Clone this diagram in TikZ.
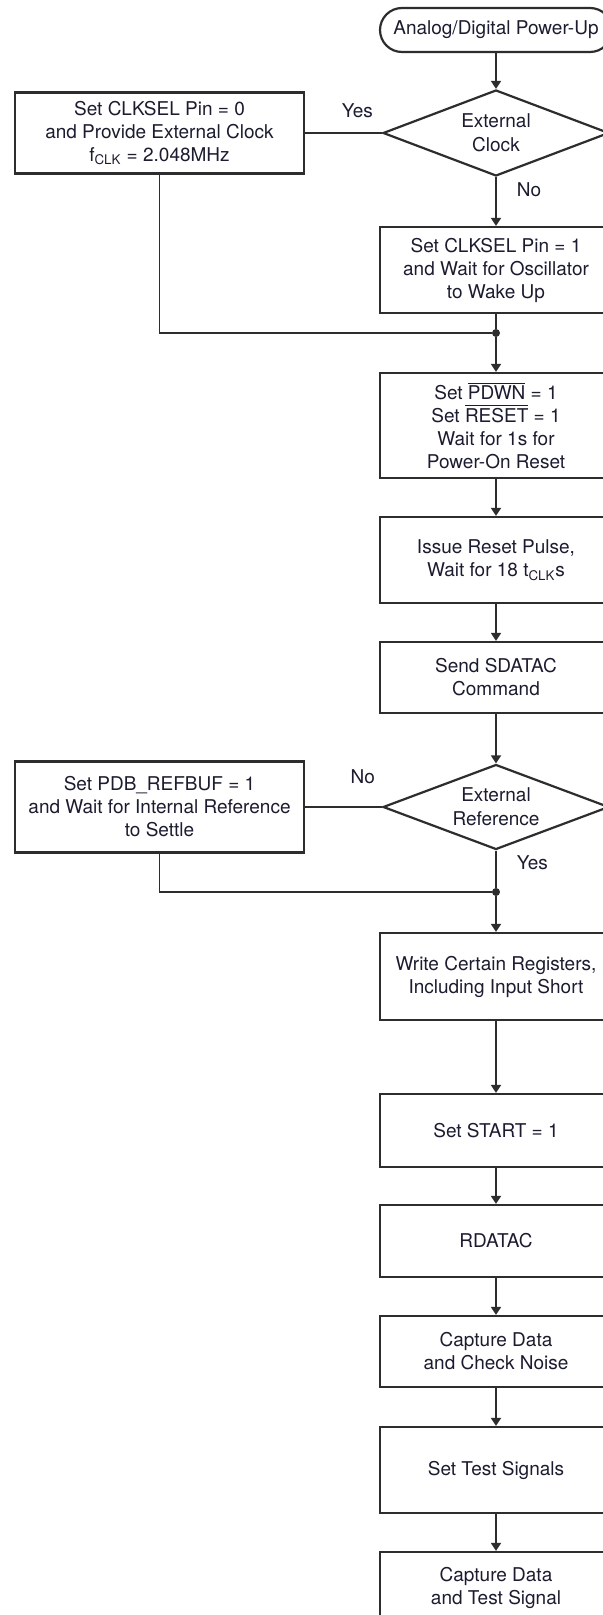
\documentclass[tikz,border=0pt]{standalone}
\usepackage{amsmath}
\usepackage{fontspec}
\setmainfont{TeX Gyre Heros}
\usetikzlibrary{arrows.meta, shapes.geometric, shapes.misc}

\definecolor{linegray}{RGB}{45,45,45}
\definecolor{textnavy}{RGB}{28,28,48}

\begin{document}
\begin{tikzpicture}[x=0.5pt, y=-0.5pt,
    proc/.style={draw=linegray, line width=1.1pt, fill=white, minimum width=116pt, align=center, inner sep=0pt, font=\fontsize{9.5pt}{11.5pt}\selectfont, text=textnavy},
    side/.style={proc, minimum width=144.5pt},
    decision/.style={diamond, draw=linegray, line width=1.1pt, fill=white, aspect=2.6, inner sep=0pt, minimum width=113pt, minimum height=43pt, align=center, font=\fontsize{9.5pt}{12pt}\selectfont, text=textnavy},
    terminal/.style={rounded rectangle, draw=linegray, line width=1.1pt, fill=white, minimum width=116pt, minimum height=22pt, inner sep=0pt, font=\fontsize{9.5pt}{11.5pt}\selectfont, text=textnavy},
    flow/.style={draw=linegray, line width=0.8pt, -{Triangle[length=4pt, width=5pt]}},
    link/.style={draw=linegray, line width=0.8pt},
    junction/.style={circle, fill=linegray, inner sep=0pt, minimum size=4pt},
    answer/.style={inner sep=0pt, font=\fontsize{9.5pt}{11.5pt}\selectfont, text=textnavy}
]
\useasboundingbox (0,0) rectangle (603,1615);
\fill[white] (0,0) rectangle (603,1615);

% Clock selection
\node[terminal] (start) at (496,30) {Analog/Digital Power-Up};
\node[decision] (d1) at (496,133) {External\\Clock};
\node[side, minimum height=40.5pt] (l1) at (159.5,133) {Set CLKSEL Pin = 0\\and Provide External Clock\\f$_{\text{CLK}}$ = 2.048MHz};
\node[proc, minimum height=43pt] (clk1) at (496,270) {Set CLKSEL Pin = 1\\and Wait for Oscillator\\to Wake Up};
\node[junction] (j1) at (496,333) {};

\draw[flow] (start) -- (d1);
\draw[link] (d1.west) -- node[answer, above=7pt, pos=0.32] {Yes} (l1.east);
\draw[flow] (d1.south) -- node[answer, right=10pt, pos=0.25] {No} (clk1.north);
\draw[link] (clk1.south) -- (j1);
\draw[link] (l1.south) |- (j1);

% Power-on and reset
\node[proc, minimum height=52.5pt] (pdwn) at (496,425.5) {Set $\overline{\text{PDWN}}$ = 1\\Set $\overline{\text{RESET}}$ = 1\\Wait for 1s for\\Power-On Reset};
\node[proc, minimum height=43pt] (reset) at (496,560) {Issue Reset Pulse,\\Wait for 18 t$_{\text{CLK}}$s};
\node[proc, minimum height=35.5pt] (sdatac) at (496,677.5) {Send SDATAC\\Command};

\draw[flow] (j1) -- (pdwn.north);
\draw[flow] (pdwn) -- (reset);
\draw[flow] (reset) -- (sdatac);

% Reference selection
\node[decision, minimum height=42.5pt] (d2) at (496,807) {External\\Reference};
\node[side, minimum height=45.5pt] (l2) at (159.5,807) {Set PDB\_REFBUF = 1\\and Wait for Internal Reference\\to Settle};
\node[junction] (j2) at (496,892) {};

\draw[flow] (sdatac) -- (d2.north);
\draw[link] (d2.west) -- node[answer, above=11pt, pos=0.25] {No} (l2.east);
\draw[link] (d2.south) -- node[answer, right=10pt, pos=0.33] {Yes} (j2);
\draw[link] (l2.south) |- (j2);

% Data capture
\node[proc, minimum height=43.5pt] (regs) at (496,976.5) {Write Certain Registers,\\Including Input Short};
\node[proc, minimum height=36.5pt] (setstart) at (496,1130.5) {Set START = 1};
\node[proc, minimum height=36pt] (rdatac) at (496,1241) {RDATAC};
\node[proc, minimum height=35.5pt] (capnoise) at (496,1351.5) {Capture Data\\and Check Noise};
\node[proc, minimum height=43pt] (testsig) at (496,1470) {Set Test Signals};
\node[proc, minimum height=35.5pt] (capsig) at (496,1587.5) {Capture Data\\and Test Signal};

\draw[flow] (j2) -- (regs.north);
\draw[flow] (regs) -- (setstart);
\draw[flow] (setstart) -- (rdatac);
\draw[flow] (rdatac) -- (capnoise);
\draw[flow] (capnoise) -- (testsig);
\draw[flow] (testsig) -- (capsig);

\end{tikzpicture}
\end{document}
